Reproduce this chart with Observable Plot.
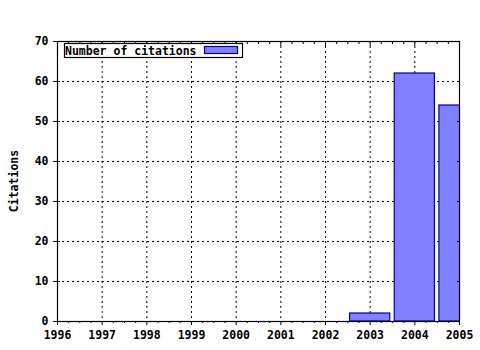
<!DOCTYPE html>
<html>
<head>
<meta charset="utf-8">
<script src="https://cdn.jsdelivr.net/npm/d3@7"></script>
<script src="https://cdn.jsdelivr.net/npm/@observablehq/plot@0.6"></script>
<style>
  html, body { margin: 0; padding: 0; background: #fff; }
  #chart { position: relative; width: 480px; height: 350px; }
</style>
</head>
<body>
<div id="chart"></div>
<script>
const years = [2003, 2004, 2005];
const citations = [2, 62, 54];
const yearTicks = [1996, 1997, 1998, 1999, 2000, 2001, 2002, 2003, 2004, 2005];
const valueTicks = [0, 10, 20, 30, 40, 50, 60, 70];
const seriesName = "Number of citations";
const yLabel = "Citations";

const data = years.map((y, i) => ({year: y, value: citations[i]}));
const minorTicks = [];
for (let y = 1996; y < 2005; y++) for (let q = 1; q < 4; q++) minorTicks.push(y + q / 4);

const font = "'DejaVu Sans Mono', monospace";
const FS = 11.5;
const W = 480, H = 350;
const mL = 57, mR = 21, mT = 41, mB = 29;

const plot = Plot.plot({
  width: W, height: H,
  marginLeft: mL, marginRight: mR, marginTop: mT, marginBottom: mB,
  style: {fontFamily: font, fontSize: FS + "px", fontWeight: "bold", background: "#fff", color: "#000"},
  x: {domain: [1996, 2005]},
  y: {domain: [0, 70]},
  marks: [
    Plot.gridX(yearTicks.slice(1, -1), {stroke: "#000", strokeOpacity: 1, strokeDasharray: "2,3"}),
    Plot.gridY(valueTicks.slice(1, -1), {stroke: "#000", strokeOpacity: 1, strokeDasharray: "2,3"}),
    Plot.rectY(data, {x1: d => d.year - 0.45, x2: d => d.year + 0.45, y: "value", fill: "#8080ff", stroke: "#0000a0", strokeWidth: 1.2, clip: true}),
    Plot.frame({stroke: "#000", strokeWidth: 1.2}),
    Plot.axisX(yearTicks, {anchor: "bottom", tickSize: 4, tickPadding: 5, label: null, tickFormat: d => String(d), fontSize: FS, fontWeight: "bold"}),
    Plot.axisX(minorTicks, {anchor: "bottom", tickSize: 2, label: null, tickFormat: () => ""}),
    Plot.axisX(yearTicks, {anchor: "top", tickSize: -4, label: null, tickFormat: () => ""}),
    Plot.axisX(minorTicks, {anchor: "top", tickSize: -2, label: null, tickFormat: () => ""}),
    Plot.axisY(valueTicks, {anchor: "left", tickSize: 4, tickPadding: 5, label: null, fontSize: FS, fontWeight: "bold"}),
    Plot.axisY(valueTicks, {anchor: "left", tickSize: -3, label: null, tickFormat: () => ""}),
    Plot.axisY(valueTicks, {anchor: "right", tickSize: -3, label: null, tickFormat: () => ""})
  ]
});
plot.style.position = "absolute";
plot.style.left = "0px";
plot.style.top = "0px";
document.getElementById("chart").appendChild(plot);

const svg = d3.select(plot);
// Y axis title (rotated)
svg.append("text")
  .attr("transform", `translate(18, ${(mT + H - mB) / 2}) rotate(-90)`)
  .attr("text-anchor", "middle")
  .attr("font-family", font)
  .attr("font-size", FS)
  .attr("font-weight", "bold")
  .attr("fill", "#000")
  .text(yLabel);

// Legend box inside plot
const lg = svg.append("g").attr("text-anchor", "start");
lg.append("rect").attr("x", 64.5).attr("y", 43.5).attr("width", 178).attr("height", 14)
  .attr("fill", "#fff").attr("stroke", "#000").attr("stroke-width", 1.2);
lg.append("text").attr("x", 65).attr("y", 54.5).attr("text-anchor", "start")
  .attr("font-family", font).attr("font-size", FS).attr("font-weight", "bold").attr("fill", "#000")
  .text(seriesName);
lg.append("rect").attr("x", 204.5).attr("y", 46.5).attr("width", 33).attr("height", 7)
  .attr("fill", "#8080ff").attr("stroke", "#0000a0").attr("stroke-width", 1.2);
</script>
</body>
</html>
